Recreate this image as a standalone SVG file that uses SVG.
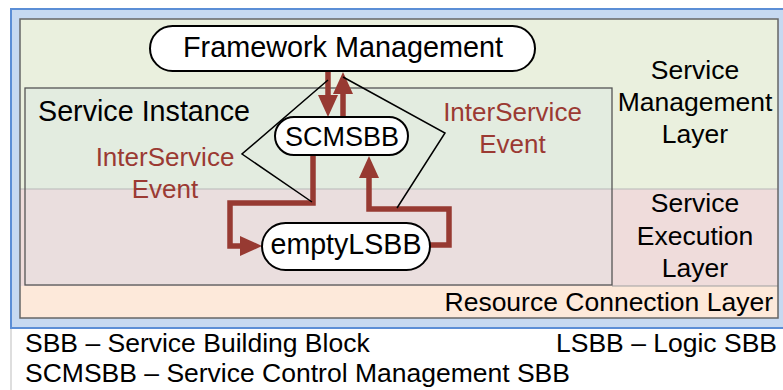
<svg xmlns="http://www.w3.org/2000/svg" width="783" height="390" viewBox="0 0 783 390">
<style>
text{font-family:"Liberation Sans",Arial,sans-serif;fill:#000}
.red{fill:#9b3a33}
.pill{fill:#fff;stroke:#000;stroke-width:2}
.conn{fill:none;stroke:#973a32;stroke-width:5.5;stroke-linejoin:miter}
.call{fill:none;stroke:#000;stroke-width:1.5}
</style>
<defs>
<marker id="ah" markerUnits="userSpaceOnUse" markerWidth="24" markerHeight="24" viewBox="0 -12 24 24" refX="0" refY="0" orient="auto" overflow="visible">
<path d="M0,-10 L22,0 L0,10 z" fill="#973a32"/>
</marker>
</defs>
<rect width="783" height="390" fill="#fff"/>
<line x1="11" y1="328" x2="11" y2="390" stroke="#bdbdbd" stroke-width="1"/>
<g id="frame">
<rect x="11" y="9" width="790" height="319" fill="#c6d9f1" stroke="#5b8ed6" stroke-width="2"/>
<rect x="20" y="19" width="758" height="170" fill="#eaf0de"/>
<rect x="20" y="189" width="758" height="97" fill="#efdcdb"/>
<rect x="20" y="286" width="758" height="32" fill="#fde9da"/>
<line x1="20" y1="189" x2="778" y2="189" stroke="#b8b8b8" stroke-width="1.2"/>
<line x1="612" y1="286" x2="778" y2="286" stroke="#a0a0a0" stroke-width="1.2"/>
<rect x="20" y="19" width="758" height="299" fill="none" stroke="#666" stroke-width="1.5"/>
</g>
<g id="service-instance">
<rect x="25" y="88" width="587" height="101" fill="#e3ece0"/>
<rect x="25" y="189" width="587" height="96" fill="#eadede"/>
<line x1="25" y1="189" x2="612" y2="189" stroke="#b8b8b8" stroke-width="1.2"/>
<rect x="25" y="88" width="587" height="197" fill="none" stroke="#555" stroke-width="1.3"/>
<text x="38" y="121" font-size="28.7">Service Instance</text>
</g>
<g id="layer-labels" text-anchor="middle" font-size="26.5">
<text x="695" y="79">Service</text>
<text x="695" y="111">Management</text>
<text x="695" y="143">Layer</text>
<text x="695" y="212">Service</text>
<text x="695" y="244.5">Execution</text>
<text x="695" y="277">Layer</text>
<text x="773" y="311" text-anchor="end">Resource Connection Layer</text>
</g>
<g id="connectors">
<path class="conn" d="M328,71 V95" marker-end="url(#ah)"/>
<path class="conn" d="M343,117 V94" marker-end="url(#ah)"/>
<path class="conn" d="M313,155 V203 H230 V246 H240" marker-end="url(#ah)"/>
<path class="conn" d="M430,245 H449 V209 H369 V178" marker-end="url(#ah)"/>
<polyline class="call" points="328,80 242,154 312,202"/>
<polyline class="call" points="343,77 445,133 397,208"/>
</g>
<g id="framework-management">
<rect class="pill" x="150" y="26" width="385" height="45" rx="22.5"/>
<text x="343" y="57" font-size="28.8" text-anchor="middle">Framework Management</text>
</g>
<g id="scmsbb">
<rect class="pill" x="275" y="117" width="133" height="38" rx="19"/>
<text x="342" y="146" font-size="27" text-anchor="middle">SCMSBB</text>
</g>
<g id="emptylsbb">
<rect class="pill" x="262" y="223" width="168" height="47" rx="23.5"/>
<text x="346" y="254" font-size="28.6" text-anchor="middle">emptyLSBB</text>
</g>
<g id="interservice-left" text-anchor="middle" font-size="26">
<text class="red" x="165" y="166">InterService</text>
<text class="red" x="165" y="198">Event</text>
</g>
<g id="interservice-right" text-anchor="middle" font-size="26">
<text class="red" x="512.5" y="121">InterService</text>
<text class="red" x="512.5" y="153">Event</text>
</g>
<g id="legend" font-size="26.5">
<text x="25" y="352">SBB – Service Building Block</text>
<text x="25" y="382">SCMSBB – Service Control Management SBB</text>
<text x="777" y="352" text-anchor="end">LSBB – Logic SBB</text>
</g>
</svg>
